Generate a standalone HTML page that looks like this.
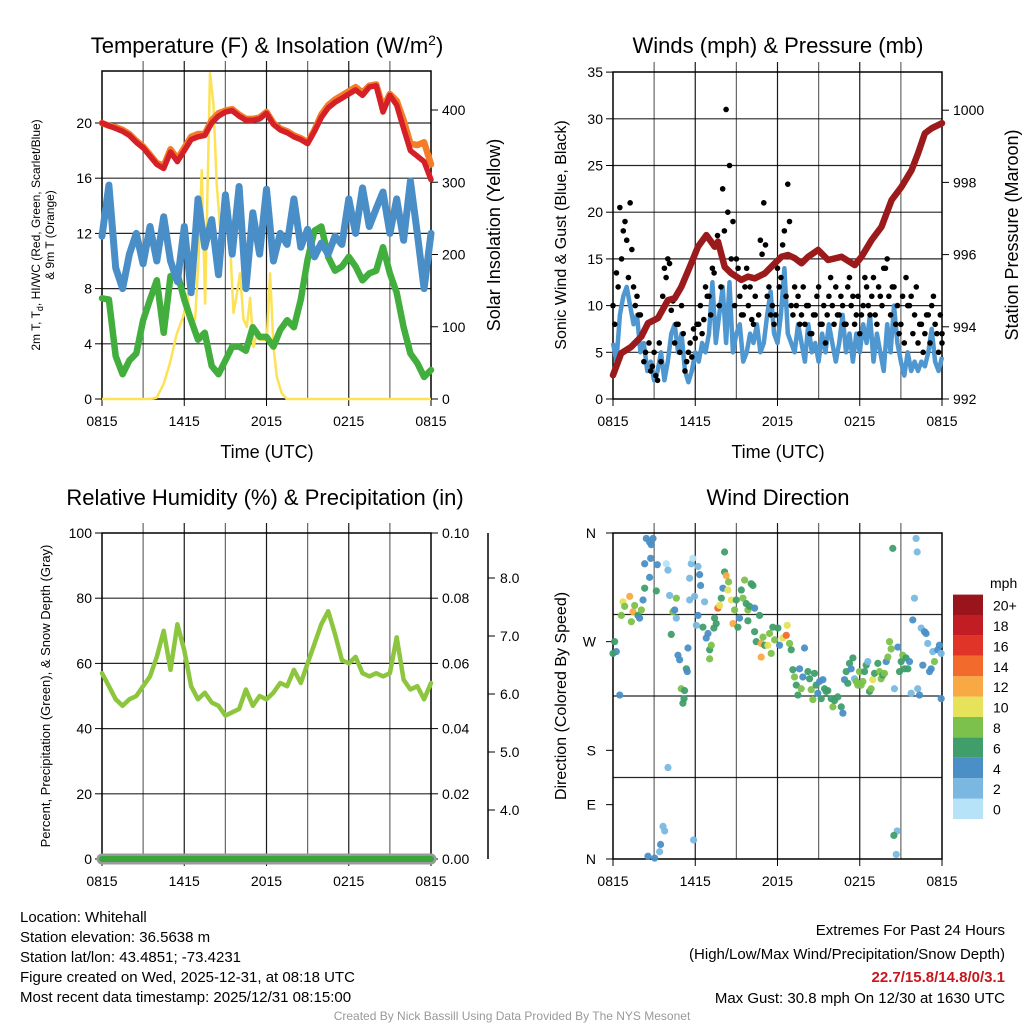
<!DOCTYPE html>
<html><head><meta charset="utf-8"><style>
body{margin:0;background:#fff;}
svg{display:block;font-family:"Liberation Sans",Arial,sans-serif;}
</style></head><body>
<svg id="c" width="1024" height="1024" viewBox="0 0 1024 1024" xmlns="http://www.w3.org/2000/svg">
<rect width="1024" height="1024" fill="#fff"/>
<g id="g"></g>
<text x="267" y="53" font-size="22" text-anchor="middle">Temperature (F) &amp; Insolation (W/m<tspan dy="-8" font-size="14">2</tspan><tspan dy="8">)</tspan></text>
<text x="778" y="53" font-size="22" text-anchor="middle">Winds (mph) &amp; Pressure (mb)</text>
<text x="265" y="505" font-size="22" text-anchor="middle">Relative Humidity (%) &amp; Precipitation (in)</text>
<text x="778" y="505" font-size="22" text-anchor="middle">Wind Direction</text>
<text x="267" y="458" font-size="18" text-anchor="middle">Time (UTC)</text>
<text x="778" y="458" font-size="18" text-anchor="middle">Time (UTC)</text>
<text transform="translate(40,235) rotate(-90)" font-size="12" text-anchor="middle">2m T, T<tspan dy="3" font-size="9">d</tspan><tspan dy="-3">, HI/WC (Red, Green, Scarlet/Blue)</tspan></text>
<text transform="translate(54,235) rotate(-90)" font-size="12" text-anchor="middle">&amp; 9m T (Orange)</text>
<text transform="translate(500,235) rotate(-90)" font-size="18" text-anchor="middle">Solar Insolation (Yellow)</text>
<text transform="translate(566,235) rotate(-90)" font-size="16" text-anchor="middle">Sonic Wind &amp; Gust (Blue, Black)</text>
<text transform="translate(1018,235) rotate(-90)" font-size="18" text-anchor="middle">Station Pressure (Maroon)</text>
<text transform="translate(50,696) rotate(-90)" font-size="13" text-anchor="middle">Percent, Precipitation (Green), &amp; Snow Depth (Gray)</text>
<text transform="translate(566,696) rotate(-90)" font-size="16" text-anchor="middle">Direction (Colored By Speed)</text>
<g font-size="15">
<text x="20" y="922">Location: Whitehall</text>
<text x="20" y="942">Station elevation: 36.5638 m</text>
<text x="20" y="962">Station lat/lon: 43.4851; -73.4231</text>
<text x="20" y="982">Figure created on Wed, 2025-12-31, at 08:18 UTC</text>
<text x="20" y="1002">Most recent data timestamp: 2025/12/31 08:15:00</text>
</g>
<g font-size="15" text-anchor="end">
<text x="1005" y="935">Extremes For Past 24 Hours</text>
<text x="1005" y="959">(High/Low/Max Wind/Precipitation/Snow Depth)</text>
<text x="1005" y="982" fill="#c8161d" font-weight="bold">22.7/15.8/14.8/0/3.1</text>
<text x="1005" y="1003">Max Gust: 30.8 mph On 12/30 at 1630 UTC</text>
</g>
<text x="512" y="1020" font-size="12" fill="#999" text-anchor="middle">Created By Nick Bassill Using Data Provided By The NYS Mesonet</text>
</svg>
<script>
// ---------- data ----------
const xTickLabels=["0815","1415","2015","0215","0815"];
const tempTicks=[0,4,8,12,16,20];
const solarTicks=[0,100,200,300,400];
const windTicks=[0,5,10,15,20,25,30,35];
const pressTicks=[992,994,996,998,1000];
const rhTicks=[0,20,40,60,80,100];
const precipTicks=["0.00","0.02","0.04","0.06","0.08","0.10"];
const snowTicks=["4.0","5.0","6.0","7.0","8.0"];
const dirLabels=["N","E","S","W","N"];
const dirLabelDeg=[0,60,120,240,360];
const speedBins=["0","2","4","6","8","10","12","14","16","18","20+"];
const speedColors=["#b7e3f8","#7ab8e2","#4a8fc6","#3f9e6a","#7cc14b","#e6e25a","#f9a944","#f26a2c","#e03428","#c21d25","#99151b"];

const redT=[20.0,19.8,19.6,19.4,19.1,18.6,18.2,17.6,17.0,16.7,17.9,17.2,18.0,18.8,19.0,19.1,20.0,20.5,20.8,20.9,20.5,20.2,20.2,20.3,20.7,19.9,19.5,19.3,19.0,18.8,18.5,19.4,20.4,21.1,21.5,21.8,22.1,22.4,22.0,22.6,22.7,20.8,22.0,21.3,19.6,18.0,17.6,17.2,15.9];
const orangeT=[20.0,19.8,19.7,19.5,19.2,18.7,18.3,17.7,17.1,16.9,18.1,17.4,18.2,19.0,19.2,19.2,20.2,20.7,20.9,21.0,20.6,20.3,20.3,20.4,20.8,20.0,19.6,19.4,19.1,18.9,18.6,19.5,20.6,21.3,21.7,22.0,22.3,22.6,22.2,22.7,22.8,21.1,22.1,21.6,20.2,18.5,18.4,18.6,17.0];
const blueT=[11.8,15.5,9.5,8.0,10.5,12.0,9.8,12.5,10.0,13.2,10.0,8.5,12.5,7.7,14.5,11.0,13.0,9.0,14.8,10.5,15.4,8.0,13.5,10.5,15.2,10.0,12.0,11.2,14.5,11.0,12.3,10.3,11.3,10.5,11.8,11.2,14.5,12.0,15.3,12.5,13.8,15.0,12.0,14.5,11.5,15.8,12.0,8.0,12.0];
const greenT=[7.3,7.2,3.1,1.8,2.8,3.3,5.7,7.2,8.6,4.8,8.9,9.1,7.2,5.7,4.3,4.8,2.4,1.8,2.8,3.8,3.8,3.5,5.2,4.5,4.5,3.8,5.0,5.7,5.2,7.2,10.1,12.2,12.5,10.3,9.3,9.6,10.3,9.6,8.6,9.1,9.3,11.0,9.1,7.7,5.2,3.3,2.6,1.6,2.1];
const solarHr=[0,3.5,3.99,4.48,4.96,5.45,5.94,6.23,6.54,6.79,7.03,7.27,7.52,7.88,8.13,8.37,8.61,8.86,9.1,9.34,9.59,9.83,10.07,10.32,10.56,10.8,11.05,11.29,11.53,12.02,12.26,12.51,12.75,13.11,13.48,24];
const solarW=[0,0,2,20,50,90,115,145,100,110,190,317,132,451,409,298,238,238,285,216,119,145,174,110,100,140,72,90,82,82,174,72,31,8,0,0];

const windMph=[6,4,9,11,12,10,8,9,5, 6,3,4,2,3,5,2,4, 7,8,5,7,3,1.8,3,5, 4,6,5,7,12.5,6,9,12, 6,12.5,5,7,8,4,5,7, 6,8,5,6,9,11.5,7,6, 9,14,7,6,5,8,6,4, 8,5,6,4,7,5,8,6, 4,6,9,5,7,4,7,5, 8,6,9,4,7,5,3,8, 5,10,6,4,2.5,5,3,4, 3,4,3.5,5,7.5,4,3,4.5];
const gustA=[10,13.5,20.5,18,17,21,12,11,9, 4,8,3,5,2,4,14,15, 9.5,6,8,10,3,5,4.5,6.5, 8,7,12,11,14,16.5,10,22.5, 31,25,19,15,11,9,14,12, 8,13,17,21,11,9,8,14, 13,18,23,10,12,11,9,8, 10,7,9,12,8,6,11,10, 12,9,10,8,13,11,9,7, 10,12,9,13,8,11,14,15, 9,12,10,8,6,10,11,9, 6,8,7,9,10,8,5,7];
const gustB=[8,12,15,19,13,16,10,9,7, 5,6,3.5,2.5,6,11,13,14.5, 10.5,8,5,7,4,6,7.5,8, 10,8.5,11,9,13.5,17.5,12,18, 20,15,10,14,9,12,10,8.5, 11,9,15.5,16.5,12,10,9,12, 16.5,11,19,9,10,8,12,10, 7,9,11,8,10,9,13,8, 9,11,8,12,10,8,11,9, 13,10,11,9,12,10,14,11, 12,8,7,11,13,10,7,12, 8,5,9,6,11,7,9,6];
const pressHr=[0,0.6,1.34,2.07,2.55,3.28,4.01,4.5,4.99,5.6,6.2,6.81,7.42,7.66,8.15,8.64,9.37,9.85,10.34,11.07,11.8,12.29,12.77,13.26,13.75,14.23,14.96,15.69,16.67,17.64,18.13,18.86,19.59,20.32,21.05,21.78,22.26,22.75,23.24,24];
const pressMb=[992.66,993.27,993.45,993.73,994.10,994.24,994.74,994.79,995.11,995.66,996.22,996.54,996.22,996.36,995.66,995.48,995.30,995.39,995.34,995.48,995.76,995.94,995.99,995.90,995.76,995.94,996.13,995.85,995.94,995.71,995.94,996.40,996.77,997.51,997.88,998.34,998.81,999.36,999.50,999.64];

const rhPct=[57,53,49,47,49,50,53,56,62,70,58,72,64,53,49,51,48,47,44,45,46,52,47,50,49,51,54,53,58,54,60,66,72,76,69,61,60,62,57,56,57,56,57,68,55,52,53,49,54];
const precipIn=[0,0];

const dirHr=[
0.12,0.24,0,0.49,0.61,0.73,0.85,1.22,1.46,1.34,
1.58,1.82,1.94,2.07,2.19,2.31,2.31,2.43,2.67,2.79,
2.92,2.75,2.67,3.23,3.16,3.89,4.01,4.13,4.25,4.37,
4.62,4.5,4.62,4.74,4.86,4.98,5.22,5.18,5.1,5.35,
5.42,5.47,5.59,5.71,5.83,5.59,5.95,6.2,6.32,6.39,
6.2,6.08,6.56,6.68,6.93,6.8,7.05,7.17,7.05,7.41,
7.53,7.36,7.65,7.78,7.9,8.02,8.14,8.14,8.26,8.43,
8.38,8.63,8.75,8.87,8.99,9.11,9.23,9.36,9.48,9.6,
9.72,9.84,9.96,10.08,10.21,10.33,9.84,10.33,10.45,10.69,
10.81,10.81,10.94,11.06,11.3,11.42,11.54,11.66,11.79,12.03,
12.15,12.39,12.64,12.71,12.88,13.0,13.12,13.24,13.37,13.49,
13.61,13.73,13.85,13.97,14.22,14.34,14.46,14.58,14.7,14.82,
14.94,15.07,15.19,15.31,15.43,15.55,15.67,15.92,16.04,16.16,
16.4,16.65,16.77,16.89,17.01,17.13,17.25,17.37,17.5,17.62,
17.74,17.86,17.98,18.1,18.23,18.35,18.47,18.59,18.71,18.83,
18.95,19.08,19.32,19.44,19.56,19.68,19.8,19.93,20.05,20.17,
20.29,20.41,20.53,20.78,20.9,21.02,21.14,21.26,21.38,21.51,
21.63,21.75,21.87,21.99,22.11,22.19,22.23,22.36,22.48,22.6,
22.72,22.84,22.96,23.09,23.21,23.33,23.45,23.69,23.81,23.94,23.94,
3.65,3.77,3.47,3.4,2.55,3.04,4.01,5.88,20.73,20.49,20.66];
const dirDeg=[
240,229,227,181,269,284,279,290,273,262,
280,269,266,275,286,326,299,354,350,347,
354,332,311,325,296,326,319,291,248,273,
288,275,266,225,220,188,186,177,172,210,
207,233,310,326,332,286,290,323,314,302,
269,258,256,284,249,244,231,236,221,266,
260,255,277,280,288,299,339,317,313,306,
297,286,260,275,286,256,266,297,288,308,
282,275,279,304,302,277,263,251,240,269,
238,223,245,236,236,249,227,256,242,255,
236,244,247,258,238,231,209,201,192,181,
210,188,201,233,207,199,187,176,205,192,
183,196,177,198,188,185,186,177,168,175,
179,168,161,198,207,194,216,210,222,199,
196,192,207,192,196,207,214,218,185,188,
198,205,216,207,199,203,205,218,223,240,
232,343,188,234,207,218,225,210,222,210,
218,183,264,288,354,339,188,181,255,214,
251,249,238,207,210,229,218,231,236,227,177,
36,31,16,8,3,1,101,21,31,26,5];
const dirSpd=[
7,5,7,5,9,11,9,13,13,9,
9,7,5,9,5,5,7,5,5,5,
5,5,5,5,7,1,3,3,7,9,
9,5,3,5,5,9,7,7,7,7,
5,5,3,3,1,3,3,3,5,5,
5,3,7,3,5,5,7,9,9,7,
7,7,15,11,7,5,7,7,13,9,
11,11,13,9,7,7,5,7,9,9,
7,9,7,7,7,5,7,7,7,7,
13,13,9,7,11,9,9,7,9,7,
5,11,15,11,9,7,7,9,7,7,
5,9,5,5,7,7,9,9,7,7,
5,5,7,5,7,7,7,7,9,7,
7,7,5,5,7,7,7,5,7,3,
9,9,9,9,9,7,7,3,7,9,
11,7,7,9,9,7,9,5,9,9,
9,7,3,5,7,7,9,7,7,7,
5,3,5,3,3,3,3,5,3,5,
5,5,3,5,5,3,9,5,5,3,5,
3,3,5,3,5,5,3,3,3,7,3];

// ---------- drawing ----------
const NS="http://www.w3.org/2000/svg";
const root=document.getElementById('g');
function mk(tag,attrs,parent){const e=document.createElementNS(NS,tag);for(const k in attrs)e.setAttribute(k,attrs[k]);(parent||root).appendChild(e);return e;}
function xs(p,t){return p.x0+t/24*(p.x1-p.x0);}
function halfHours(n){const a=[];for(let i=0;i<n;i++)a.push(i*24/(n-1));return a;}
function path(p,ts,vs,fy){return ts.map((t,i)=>(i?'L':'M')+xs(p,t).toFixed(1)+','+fy(vs[i]).toFixed(1)).join('');}

const P1={x0:102,x1:431,y0:71,y1:399};
const P2={x0:613,x1:942,y0:72,y1:399};
const P3={x0:102,x1:431,y0:533,y1:859};
const P4={x0:613,x1:942,y0:533,y1:859};
const yTemp=v=>399-v*13.8, ySolar=w=>399-w*0.7225;
const yWind=v=>399-v*9.34, yPress=p=>399-(p-992)*36.1;
const yRH=v=>859-v*3.26, yPrecip=v=>859-v*3260, ySnow=s=>810-(s-4)*58;
const yDir=d=>859-d*0.9056;

function frame(p,name,hVals,fy){
  const gr=mk('g',{});
  
  
  for(let h=3;h<24;h+=3){const x=xs(p,h);const l=mk('line',{x1:x,x2:x,y1:p.y0-10,y2:p.y1,stroke:'#000','stroke-width':1.2,'stroke-opacity':(h%6?0.6:0.9)},gr);}
  hVals.forEach(v=>{const y=fy(v);if(y>p.y0+1&&y<p.y1-1){const l=mk('line',{x1:p.x0,x2:p.x1,y1:y,y2:y,stroke:'#000','stroke-width':1.2,'stroke-opacity':0.85},gr);}});
  const b=mk('rect',{x:p.x0,y:p.y0,width:p.x1-p.x0,height:p.y1-p.y0,fill:'none',stroke:'#000','stroke-width':1.5});
  
  
  xTickLabels.forEach((s,i)=>{const x=xs(p,i*6);
    const t=mk('text',{x:x,y:p.y1+27,'font-size':14,'text-anchor':'middle'});t.textContent=s;
    
    
    const k=mk('line',{x1:x,x2:x,y1:p.y1,y2:p.y1+7,stroke:'#000'});});
}
function leftTicks(p,vals,fy,labels,xoff){vals.forEach((v,i)=>{const y=fy(v);
  const k=mk('line',{x1:p.x0-7,x2:p.x0,y1:y,y2:y,stroke:'#000'});
  const t=mk('text',{x:p.x0-(xoff||10),y:y+5,'font-size':14,'text-anchor':'end'});t.textContent=labels?labels[i]:v;
  
  });}
function rightTicks(p,vals,fy,labels){vals.forEach((v,i)=>{const y=fy(v);
  const k=mk('line',{x1:p.x1,x2:p.x1+7,y1:y,y2:y,stroke:'#000'});
  const t=mk('text',{x:p.x1+11,y:y+5,'font-size':14});t.textContent=labels?labels[i]:v;
  
  });}

// Panel 1
frame(P1,'temperature',[4,8,12,16,20],yTemp);
leftTicks(P1,tempTicks,yTemp);
rightTicks(P1,solarTicks,ySolar);
const hh=halfHours(49);
let e;
e=mk('path',{d:path(P1,solarHr,solarW,ySolar),fill:'none',stroke:'#fde255','stroke-width':2.5,'stroke-linejoin':'round'});

e=mk('path',{d:path(P1,hh,greenT,yTemp),fill:'none',stroke:'#42ae3e','stroke-width':6.5,'stroke-linejoin':'round','stroke-linecap':'round'});

e=mk('path',{d:path(P1,hh,blueT,yTemp),fill:'none',stroke:'#4a8ec8','stroke-width':7,'stroke-linejoin':'round','stroke-linecap':'round'});

e=mk('path',{d:path(P1,hh,orangeT,yTemp),fill:'none',stroke:'#f47d2a','stroke-width':6.5,'stroke-linejoin':'round','stroke-linecap':'round'});

e=mk('path',{d:path(P1,hh,redT,yTemp),fill:'none',stroke:'#d42026','stroke-width':5.5,'stroke-linejoin':'round','stroke-linecap':'round'});


// Panel 2
frame(P2,'winds',[5,10,15,20,25,30],yWind);
leftTicks(P2,windTicks,yWind);
rightTicks(P2,pressTicks,yPress);
const qh=halfHours(97);
e=mk('path',{d:path(P2,qh,windMph,yWind),fill:'none',stroke:'#4e97d1','stroke-width':4.5,'stroke-linejoin':'round'});

qh.forEach((t,i)=>{const d=mk('circle',{cx:xs(P2,t),cy:yWind(gustA[i]),r:2.8,fill:'#000'});
  
  
  const d2=mk('circle',{cx:xs(P2,Math.min(24,t+0.125)),cy:yWind(gustB[i]),r:2.8,fill:'#000'});
  
  });
e=mk('path',{d:path(P2,pressHr,pressMb,yPress),fill:'none',stroke:'#9b1a1c','stroke-width':6.5,'stroke-linejoin':'round','stroke-linecap':'round'});


// Panel 3
frame(P3,'humidity',[20,40,60,80],yRH);
leftTicks(P3,rhTicks,yRH);
rightTicks(P3,[0,0.02,0.04,0.06,0.08,0.1],yPrecip,precipTicks);
e=mk('line',{x1:488,x2:488,y1:533,y2:859,stroke:'#000','stroke-width':1.5});

snowTicks.forEach(s=>{const y=ySnow(parseFloat(s));
  const k=mk('line',{x1:488,x2:495,y1:y,y2:y,stroke:'#000'});
  const t=mk('text',{x:500,y:y+5,'font-size':14});t.textContent=s;
  
  });
e=mk('path',{d:path(P3,[0,24],[0,0],yRH),fill:'none',stroke:'#9a9a9a','stroke-width':11,'stroke-linecap':'round'});

e=mk('path',{d:path(P3,[0,24],precipIn,yPrecip),fill:'none',stroke:'#3aa53a','stroke-width':6,'stroke-linecap':'round'});

e=mk('path',{d:path(P3,hh,rhPct,yRH),fill:'none',stroke:'#8cc63f','stroke-width':4.5,'stroke-linejoin':'round','stroke-linecap':'round'});


// Panel 4
frame(P4,'wind-direction',[90,180,270],yDir);
dirLabels.forEach((s,i)=>{const y=yDir(dirLabelDeg[i]);
  const k=mk('line',{x1:P4.x0-7,x2:P4.x0,y1:y,y2:y,stroke:'#000'});
  const t=mk('text',{x:P4.x0-17,y:y+5,'font-size':14,'text-anchor':'end'});t.textContent=s;
  
  });
function spdColor(s){return speedColors[Math.max(0,Math.min(10,Math.floor((s||0)/2)))];}
dirHr.forEach((t,i)=>{const d=mk('circle',{cx:xs(P4,t),cy:yDir(dirDeg[i]),r:3.6,fill:spdColor(dirSpd[i]),'fill-opacity':0.95});
  
  });
// colorbar
e=mk('text',{x:990,y:588,'font-size':14});e.textContent='mph';

speedBins.forEach((s,i)=>{const y=819-(i+1)*20.4;
  const r=mk('rect',{x:953,y:y,width:30,height:20.4,fill:speedColors[i]});
  
  
  const t=mk('text',{x:993,y:y+16,'font-size':14});t.textContent=s;
  
  });
</script>
</body></html>
